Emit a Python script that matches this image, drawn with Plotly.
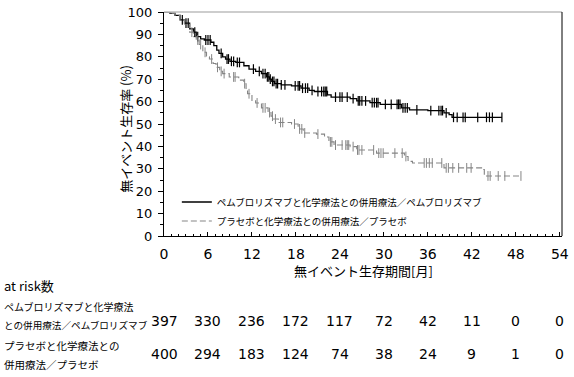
import numpy as np
import plotly.graph_objects as go

# ---------------- data ----------------
pembro_t = [0, 0.8, 1.5, 2.2, 2.8, 3.5, 4.0, 4.4, 5.0, 5.5, 6.4, 6.8, 7.2, 7.5, 8.0, 8.4, 9.0, 9.8,
            10.9, 11.6, 12.5, 13.3, 14.0, 14.4, 14.7, 15.1, 16.0, 17.4, 18.7, 19.8, 20.5, 22.3, 22.8,
            25.4, 26.3, 28.1, 29.5, 32.4, 33.5, 36.0, 38.2, 38.9, 39.3, 46.1]
pembro_s = [100, 99.5, 98.5, 96.5, 95, 92.5, 91, 89, 88, 87.5, 86.5, 85, 83, 81.5, 80, 79, 78, 77.5,
            76, 74.5, 73.5, 72.5, 71, 70, 69, 68, 67.5, 67, 66, 65, 64.5, 63, 62,
            61.3, 60.3, 59.5, 58.8, 57.2, 56.3, 56, 55, 54.2, 53, 53]
pembro_cens = [2.5, 3.0, 3.3, 4.2, 4.6, 5.7, 6.0, 6.3, 7.8, 8.6, 8.8, 9.2, 9.5, 10.0, 10.3, 12.2, 13.0,
               13.5, 13.8, 14.1, 14.3, 14.5, 14.8, 15.0, 15.3, 15.5, 16.0, 16.5, 17.9, 18.3, 18.5, 18.9,
               19.3, 19.6, 20.2, 21.0, 21.5, 21.8, 22.0, 22.2, 23.4, 24.0, 24.3, 25.0, 25.8, 26.5, 26.7,
               27.0, 27.5, 28.4, 28.7, 29.0, 29.2, 30.2, 31.0, 31.8, 32.0, 32.2, 32.6, 32.9, 33.2, 34.5,
               36.4, 37.5, 37.8, 38.0, 38.5, 39.5, 40.0, 40.8, 41.1, 42.8, 44.0, 44.4, 44.8, 46.1]

placebo_t = [0, 0.8, 1.5, 2.2, 2.8, 3.5, 4.0, 4.4, 4.8, 5.3, 5.8, 6.2, 6.7, 7.1, 7.6, 8.0, 8.9, 10.2,
             10.9, 11.2, 11.4, 12.0, 12.5, 13.3, 14.2, 14.6, 14.9, 15.6, 17.4, 18.3, 19.0, 20.8, 21.9,
             22.5, 23.2, 25.4, 26.3, 29.0, 32.8, 33.3, 33.9, 38.2, 43.6, 43.7, 48.7]
placebo_s = [100, 99.5, 98.5, 96.5, 94.5, 91, 89, 87.5, 85.5, 82, 80, 79, 77, 75.3, 73.5, 72.5, 71, 69.6,
             68, 65.5, 63.5, 60.5, 59.4, 57.2, 55.1, 53.5, 52.2, 50.7, 50, 47.8, 46, 45.5, 44.2,
             42, 40.6, 39.9, 38.4, 37, 35.5, 33.3, 32.6, 30.4, 29.7, 26.8, 26.8]
placebo_cens = [3.8, 4.6, 5.0, 5.6, 6.5, 7.3, 7.8, 8.2, 9.5, 9.7, 11.0, 11.6, 12.7, 13.5, 13.8, 14.4,
                14.8, 15.2, 15.9, 16.2, 17.8, 18.5, 18.8, 19.2, 21.0, 22.7, 22.9, 23.4, 24.3, 24.8, 25.0,
                25.2, 25.8, 26.4, 26.6, 27.0, 28.6, 29.3, 29.6, 29.9, 31.5, 32.5, 33.0, 35.5, 35.8, 36.2,
                36.6, 37.9, 38.5, 38.8, 39.4, 40.2, 41.3, 41.9, 44.2, 44.5, 45.6, 46.5, 48.7]

names = ["ペムブロリズマブと化学療法との併用療法／ペムブロリズマブ", "プラセボと化学療法との併用療法／プラセボ"]
risk_months = [0, 6, 12, 18, 24, 30, 36, 42, 48, 54]
risk_pembro = [397, 330, 236, 172, 117, 72, 42, 11, 0, 0]
risk_placebo = [400, 294, 183, 124, 74, 38, 24, 9, 1, 0]
risk_labels = [["ペムブロリズマブと化学療法", "との併用療法／ペムブロリズマブ"],
               ["プラセボと化学療法との", "併用療法／プラセボ"]]
x_ticks = list(range(0, 55, 6))
y_ticks = list(range(0, 101, 10))


def step_at(t, s, x):
    idx = np.searchsorted(np.array(t), np.array(x), side="right") - 1
    return list(np.array(s)[idx])


JP = "Noto Sans CJK JP"
NUM = "DejaVu Sans, Noto Sans CJK JP"
BLACK = "#000000"
GRAY = "#858585"

fig = go.Figure()
fig.add_trace(go.Scatter(x=pembro_t, y=pembro_s, mode="lines", line_shape="hv",
                         line=dict(color=BLACK, width=1.3), name=names[0]))
fig.add_trace(go.Scatter(x=placebo_t, y=placebo_s, mode="lines", line_shape="hv",
                         line=dict(color=GRAY, width=1.1, dash="6px,3px"), name=names[1]))
fig.add_trace(go.Scatter(x=pembro_cens, y=step_at(pembro_t, pembro_s, pembro_cens), mode="markers",
                         marker=dict(symbol="line-ns-open", size=7, color=BLACK,
                                     line=dict(color=BLACK, width=1.2)),
                         showlegend=False, hoverinfo="skip"))
fig.add_trace(go.Scatter(x=placebo_cens, y=step_at(placebo_t, placebo_s, placebo_cens), mode="markers",
                         marker=dict(symbol="line-ns-open", size=7, color=GRAY,
                                     line=dict(color=GRAY, width=1)),
                         showlegend=False, hoverinfo="skip"))

L, R, T, B = 164, 7, 5, 141
W, H = 574, 377
PH = H - T - B
PW = W - L - R


def py(ypx):
    return (H - B - ypx) / PH


def px(xpx):
    return (xpx - L) / PW


fig.update_layout(
    width=W, height=H, margin=dict(l=L, r=R, t=T, b=B),
    paper_bgcolor="white", plot_bgcolor="white",
    font=dict(family=NUM, color="black"),
    showlegend=True,
    legend=dict(x=px(177), y=py(186), xanchor="left", yanchor="top", bgcolor="rgba(0,0,0,0)",
                font=dict(family=JP, size=9.5), tracegroupgap=0, itemwidth=30),
    xaxis=dict(range=[0, 54.3], tickvals=x_ticks, ticks="inside", ticklen=4, tickcolor="black",
               showline=True, linecolor="black", linewidth=1, showgrid=False, zeroline=False,
               tickfont=dict(family=NUM, size=14), ticklabelstandoff=5, ticklabeloverflow="allow",
               minor=dict(dtick=1, tick0=0, ticks="inside", ticklen=2, tickcolor="black")),
    yaxis=dict(range=[0, 100], tickvals=y_ticks, ticks="outside", ticklen=5, tickcolor="black",
               showline=True, linecolor="black", linewidth=1, showgrid=False, zeroline=False,
               tickfont=dict(family=NUM, size=13), ticklabelstandoff=3, ticklabeloverflow="allow",
               minor=dict(dtick=5, tick0=0, ticks="outside", ticklen=3, tickcolor="black")),
)

# frame lines (top gray, right black)
fig.add_shape(type="line", xref="paper", yref="paper", x0=0, x1=1, y0=1, y1=1,
              line=dict(color="#bdbdbd", width=1.5))
fig.add_shape(type="line", xref="paper", yref="paper", x0=1, x1=1, y0=0, y1=1,
              line=dict(color="black", width=1))

ann = []
ann.append(dict(text="無イベント生存期間[月]", xref="paper", yref="paper", x=0.5, y=py(272),
                showarrow=False, font=dict(family=JP, size=13), xanchor="center", yanchor="middle"))
ann.append(dict(text="無イベント生存率 (%)", xref="paper", yref="paper", x=px(125), y=py(125),
                showarrow=False, textangle=-90, font=dict(family=JP, size=13),
                xanchor="center", yanchor="middle"))
ann.append(dict(text="at risk数", xref="paper", yref="paper", x=px(0), y=py(287), showarrow=False,
                font=dict(family=JP, size=13), xanchor="left", yanchor="middle"))
label_y = [[309, 328], [349, 368]]
label_sz = [[10, 9.6], [10.5, 10.5]]
for lbls, ys, szs in zip(risk_labels, label_y, label_sz):
    for t, yy, sz in zip(lbls, ys, szs):
        ann.append(dict(text=t, xref="paper", yref="paper", x=px(0), y=py(yy), showarrow=False,
                        font=dict(family=JP, size=sz), xanchor="left", yanchor="middle"))
for vals, yy in zip([risk_pembro, risk_placebo], [324, 358]):
    for m, v in zip(risk_months, vals):
        ann.append(dict(text=str(v), xref="x", yref="paper", x=m, y=py(yy), showarrow=False,
                        font=dict(family=NUM, size=14), xanchor="center", yanchor="middle"))
fig.update_layout(annotations=ann)

fig.write_html("out.html", config={"displayModeBar": False},
               post_script="document.body.style.margin='0';document.body.style.overflow='hidden';")
